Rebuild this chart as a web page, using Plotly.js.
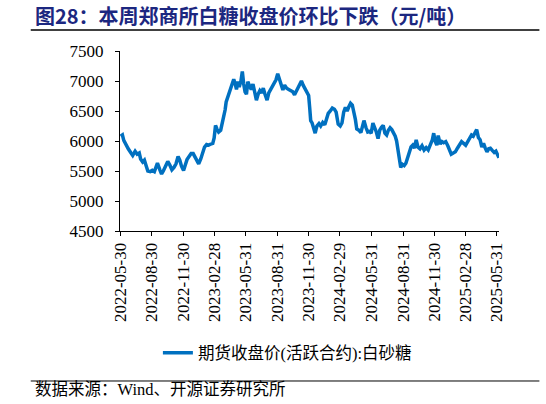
<!DOCTYPE html>
<html>
<head>
<meta charset="utf-8">
<script src="https://cdn.plot.ly/plotly-3.0.1.min.js"></script>
<style>
  html, body { margin: 0; padding: 0; background: #fff; }
  #myDiv { width: 546px; height: 404px; }
</style>
</head>
<body>
<div id="myDiv"></div>
<script>
// 白砂糖期货收盘价(活跃合约)
var dates = [
  "2022-06-01","2022-06-06","2022-06-10","2022-06-16","2022-06-23","2022-07-01","2022-07-06","2022-07-13",
  "2022-07-19","2022-07-25","2022-07-29","2022-08-04","2022-08-09","2022-08-15","2022-08-19","2022-08-26",
  "2022-09-01","2022-09-07","2022-09-13","2022-09-16","2022-09-23","2022-09-28","2022-10-03","2022-10-10",
  "2022-10-16","2022-10-22","2022-10-28","2022-11-03","2022-11-09","2022-11-15","2022-11-20","2022-11-25",
  "2022-12-01","2022-12-06","2022-12-11","2022-12-17","2022-12-23","2022-12-29","2023-01-03","2023-01-09",
  "2023-01-14","2023-01-20","2023-01-25","2023-01-31","2023-02-06","2023-02-12","2023-02-18","2023-02-24",
  "2023-02-28","2023-03-04","2023-03-08","2023-03-13","2023-03-19","2023-03-24","2023-03-28","2023-04-01",
  "2023-04-04","2023-04-08","2023-04-13","2023-04-18","2023-04-22","2023-04-26","2023-04-30","2023-05-04",
  "2023-05-08","2023-05-12","2023-05-17","2023-05-21","2023-05-25","2023-05-29","2023-06-02","2023-06-06",
  "2023-06-11","2023-06-16","2023-06-21","2023-06-27","2023-07-01","2023-07-06","2023-07-11","2023-07-16",
  "2023-07-21","2023-07-26","2023-08-01","2023-08-06","2023-08-12","2023-08-17","2023-08-22","2023-08-27",
  "2023-09-01","2023-09-05","2023-09-11","2023-09-16","2023-09-21","2023-09-27","2023-10-03","2023-10-09",
  "2023-10-15","2023-10-20","2023-10-25","2023-10-30","2023-11-04","2023-11-09","2023-11-14","2023-11-19",
  "2023-11-25","2023-11-30","2023-12-03","2023-12-06","2023-12-10","2023-12-15","2023-12-19","2023-12-24",
  "2023-12-30","2024-01-04","2024-01-10","2024-01-16","2024-01-21","2024-01-26","2024-02-01","2024-02-07",
  "2024-02-13","2024-02-18","2024-02-24","2024-03-01","2024-03-06","2024-03-11","2024-03-16","2024-03-21",
  "2024-03-26","2024-03-31","2024-04-05","2024-04-10","2024-04-14","2024-04-18","2024-04-24","2024-04-30",
  "2024-05-05","2024-05-09","2024-05-15","2024-05-20","2024-05-25","2024-05-30","2024-06-04","2024-06-09",
  "2024-06-14","2024-06-19","2024-06-24","2024-06-29","2024-07-04","2024-07-09","2024-07-14","2024-07-19",
  "2024-07-24","2024-07-29","2024-08-03","2024-08-08","2024-08-12","2024-08-16","2024-08-20","2024-08-24",
  "2024-08-29","2024-09-03","2024-09-08","2024-09-13","2024-09-18","2024-09-23","2024-09-28","2024-10-03",
  "2024-10-08","2024-10-13","2024-10-19","2024-10-25","2024-10-31","2024-11-06","2024-11-12","2024-11-18",
  "2024-11-24","2024-11-28","2024-12-02","2024-12-07","2024-12-11","2024-12-17","2024-12-22","2024-12-27",
  "2025-01-02","2025-01-08","2025-01-13","2025-01-18","2025-01-24","2025-01-30","2025-02-05","2025-02-11",
  "2025-02-17","2025-02-23","2025-03-01","2025-03-07","2025-03-13","2025-03-18","2025-03-23","2025-03-28",
  "2025-04-02","2025-04-07","2025-04-12","2025-04-17","2025-04-22","2025-04-27","2025-05-02","2025-05-07",
  "2025-05-12","2025-05-18","2025-05-23","2025-05-28","2025-06-02","2025-06-06"
];
var closePrice = [
  6080,6100,6010,5930,5870,5800,5760,5830,
  5780,5800,5700,5650,5680,5570,5500,5490,
  5510,5490,5600,5630,5520,5450,5500,5580,
  5660,5600,5520,5560,5620,5740,5680,5580,
  5510,5600,5690,5740,5790,5790,5740,5680,
  5620,5700,5800,5900,5940,5930,5950,5960,
  6050,6260,6200,6150,6180,6300,6440,6520,
  6650,6720,6780,6850,6920,7030,6960,6860,
  6990,6900,7000,7160,6950,6820,6780,6990,
  6920,6860,6950,6800,6680,6780,6840,6800,
  6880,6780,6680,6800,6860,6900,6960,7020,
  7120,7050,6960,6850,6930,6880,6860,6840,
  6820,6770,6830,6870,6940,7000,6930,6870,
  6830,6760,6560,6340,6300,6180,6130,6250,
  6290,6250,6310,6270,6380,6460,6500,6550,
  6530,6480,6280,6250,6300,6480,6560,6500,
  6570,6630,6600,6480,6360,6200,6180,6140,
  6250,6340,6220,6150,6160,6130,6300,6230,
  6150,6040,6180,6230,6260,6130,6100,6180,
  6220,6190,6140,6080,6000,5850,5640,5560,
  5610,5590,5630,5720,5810,5900,5930,5880,
  6020,5900,5870,5920,5850,5890,5850,5920,
  6020,6130,6000,5930,6090,5950,5990,5970,
  5990,5920,5850,5780,5800,5820,5880,5940,
  5990,5960,5930,5990,6060,6100,6080,6130,
  6190,6060,6020,5900,5960,5880,5820,5870,
  5880,5840,5810,5830,5760,5720
];
var tickDates = [
  "2022-05-30","2022-08-30","2022-11-30","2023-02-28","2023-05-31","2023-08-31","2023-11-30",
  "2024-02-29","2024-05-31","2024-08-31","2024-11-30","2025-02-28","2025-05-31"
];
var seriesName = "期货收盘价(活跃合约):白砂糖";
var chartTitle = "图28：本周郑商所白糖收盘价环比下跌（元/吨）";
var sourceText = "数据来源：Wind、开源证券研究所";

var serif = "'Liberation Serif', 'Times New Roman', 'Noto Sans CJK SC', serif";
var cjk = "'Noto Sans CJK SC', sans-serif";

var trace1 = {
    x: dates,
    y: closePrice,
    type: 'scatter',
    mode: 'lines',
    name: seriesName,
    line: {color: 'rgb(0,112,192)', width: 3.5}
};

var layout = {
    width: 546,
    height: 404,
    margin: {l: 119.5, r: 46.5, t: 51, b: 173, pad: 0},
    paper_bgcolor: '#fff',
    plot_bgcolor: '#fff',
    showlegend: true,
    legend: {
        orientation: 'h',
        x: 0.1, xanchor: 'left',
        y: -0.678, yanchor: 'middle',
        font: {family: serif, size: 16.5, color: '#000'},
        bgcolor: 'rgba(0,0,0,0)'
    },
    xaxis: {
        type: 'date',
        range: ['2022-05-30', '2025-06-06'],
        tickmode: 'array',
        tickvals: tickDates,
        ticktext: tickDates,
        tickangle: -90,
        ticks: 'outside',
        ticklen: 4,
        tickcolor: '#000',
        showline: true,
        linecolor: '#000',
        linewidth: 1,
        showgrid: false,
        zeroline: false,
        tickfont: {family: serif, size: 17, color: '#000'}
    },
    yaxis: {
        range: [4500, 7500],
        dtick: 500,
        ticks: 'outside',
        ticklen: 4,
        tickcolor: '#000',
        ticklabelstandoff: 8,
        showline: true,
        linecolor: '#000',
        linewidth: 1,
        showgrid: false,
        zeroline: false,
        tickfont: {family: serif, size: 17, color: '#000'}
    },
    shapes: [
        {type: 'line', xref: 'paper', yref: 'paper', x0: -0.2355, x1: 1.1066, y0: 1.1167, y1: 1.1167,
         line: {color: '#000', width: 1.5}},
        {type: 'line', xref: 'paper', yref: 'paper', x0: -0.2355, x1: 1.1066, y0: -0.8333, y1: -0.8333,
         line: {color: '#000', width: 1}}
    ],
    annotations: [
        {text: '<b>' + chartTitle + '</b>', xref: 'paper', yref: 'paper', x: -0.229, y: 1.2,
         xanchor: 'left', yanchor: 'middle', showarrow: false,
         font: {family: cjk, size: 20, color: '#1c2780'}},
        {text: sourceText, xref: 'paper', yref: 'paper', x: -0.23, y: -0.883,
         xanchor: 'left', yanchor: 'middle', showarrow: false,
         font: {family: serif, size: 16.5, color: '#000'}}
    ]
};

Plotly.newPlot('myDiv', [trace1], layout, {displayModeBar: false, staticPlot: true});
</script>
</body>
</html>
